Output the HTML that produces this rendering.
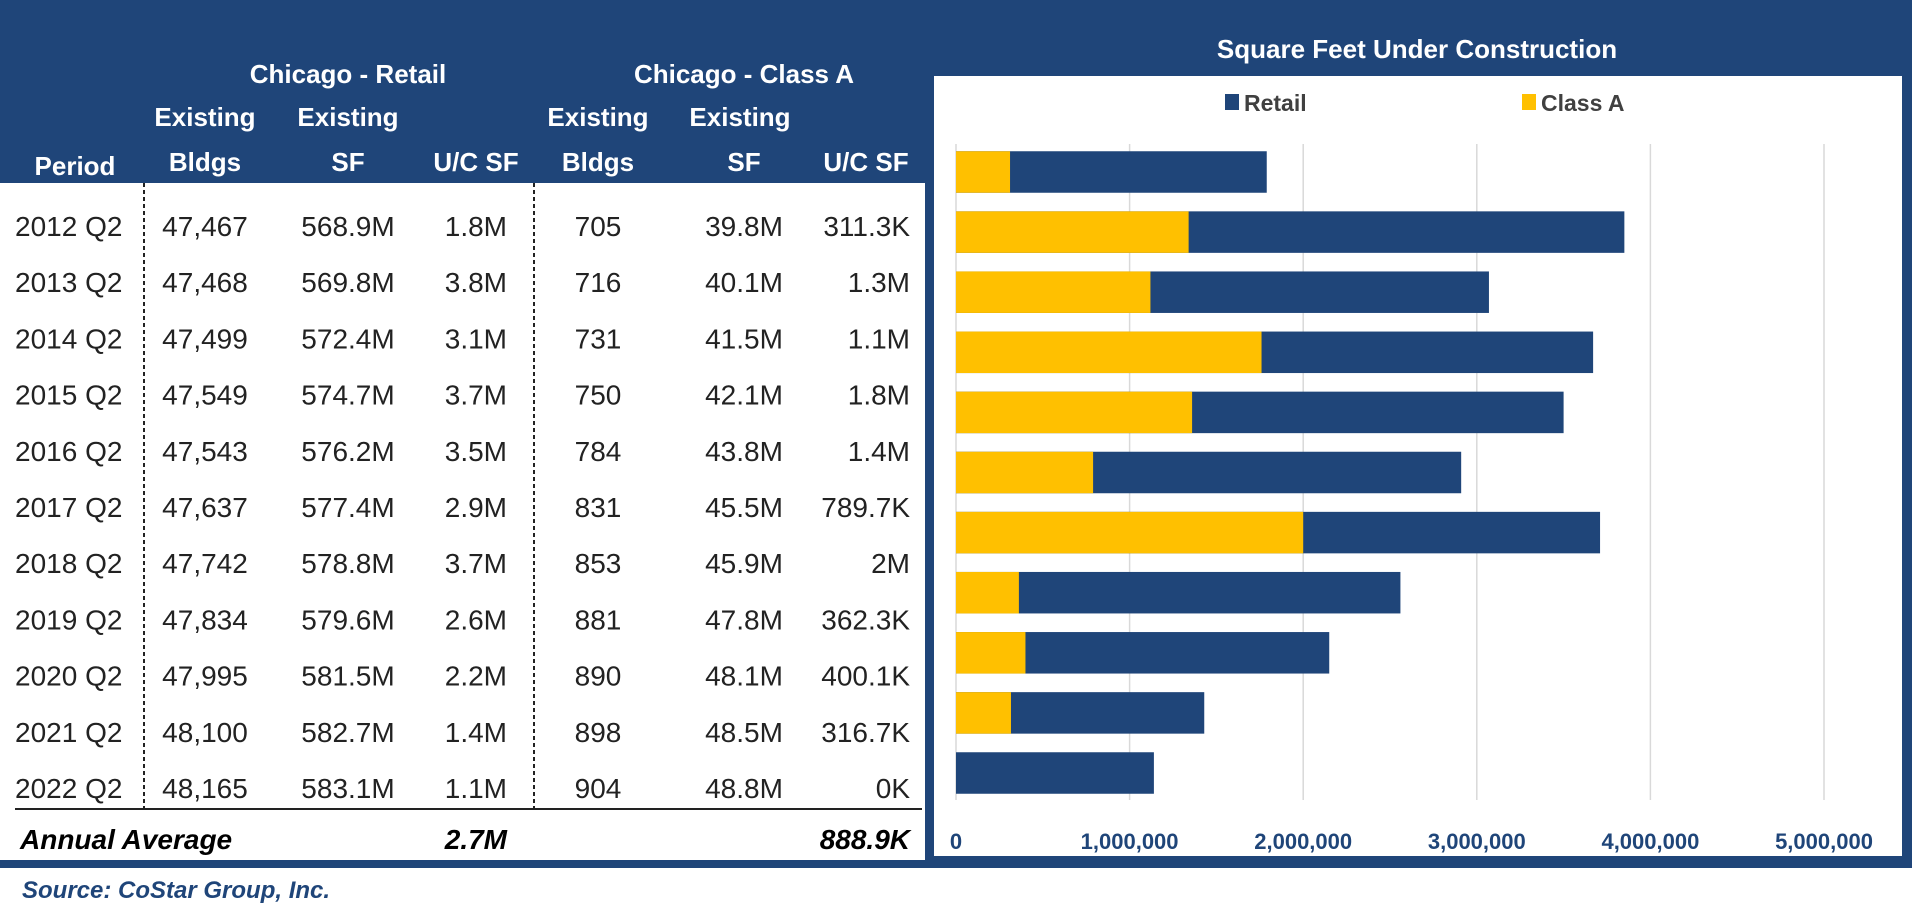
<!DOCTYPE html>
<html><head><meta charset="utf-8"><style>
html,body{margin:0;padding:0;background:#fff;}
svg{display:block;font-family:"Liberation Sans",sans-serif;}
</style></head><body>
<svg id="root" width="1912" height="918" viewBox="0 0 1912 918">
  <rect x="0" y="0" width="1912" height="868" fill="#1f4579"/>
  <rect x="0" y="183" width="925" height="677" fill="#fff"/>
  <rect x="934" y="76" width="968" height="780" fill="#fff"/>
  <text x="1417" y="58" fill="#fff" font-size="26" font-weight="bold" text-anchor="middle">Square Feet Under Construction</text>
  <g id="table"></g>
  <g id="chart"></g>
  <text x="22" y="898" fill="#1f4579" font-size="24" font-weight="bold" font-style="italic">Source:  CoStar Group, Inc.</text>
</svg>
<script>
const NS='http://www.w3.org/2000/svg';
const periods=['2012 Q2','2013 Q2','2014 Q2','2015 Q2','2016 Q2','2017 Q2','2018 Q2','2019 Q2','2020 Q2','2021 Q2','2022 Q2'];
const retailBldgs=['47,467','47,468','47,499','47,549','47,543','47,637','47,742','47,834','47,995','48,100','48,165'];
const retailSF=['568.9M','569.8M','572.4M','574.7M','576.2M','577.4M','578.8M','579.6M','581.5M','582.7M','583.1M'];
const retailUC=['1.8M','3.8M','3.1M','3.7M','3.5M','2.9M','3.7M','2.6M','2.2M','1.4M','1.1M'];
const classBldgs=['705','716','731','750','784','831','853','881','890','898','904'];
const classSF=['39.8M','40.1M','41.5M','42.1M','43.8M','45.5M','45.9M','47.8M','48.1M','48.5M','48.8M'];
const classUC=['311.3K','1.3M','1.1M','1.8M','1.4M','789.7K','2M','362.3K','400.1K','316.7K','0K'];
const retailValues=[1790000,3850000,3070000,3670000,3500000,2910000,3710000,2560000,2150000,1430000,1140000];
const classAValues=[311300,1340000,1120000,1760000,1360000,789700,2000000,362300,400100,316700,0];
const xTicks=[0,1000000,2000000,3000000,4000000,5000000];
const xTickLabels=['0','1,000,000','2,000,000','3,000,000','4,000,000','5,000,000'];

function mk(tag,attrs,parent,txt){const e=document.createElementNS(NS,tag);for(const k in attrs)e.setAttribute(k,attrs[k]);if(txt!==undefined)e.textContent=txt;parent.appendChild(e);return e;}
const table=document.getElementById('table');
// header
const H=[['Chicago - Retail',348,74],['Chicago - Class A',744,74],['Existing',205,117],['Existing',348,117],['Existing',598,117],['Existing',740,117],
 ['Period',75,166],['Bldgs',205,162],['SF',348,162],['U/C SF',476,162],['Bldgs',598,162],['SF',744,162],['U/C SF',866,162]];
H.forEach(h=>{const t=mk('text',{x:h[1],y:h[2]+9,fill:'#fff','font-size':26,'font-weight':'bold','text-anchor':'middle'},table,h[0]);

});
const cols=[[periods,15,'start'],[retailBldgs,205,'middle'],[retailSF,348,'middle'],[retailUC,507,'end'],[classBldgs,598,'middle'],[classSF,744,'middle'],[classUC,910,'end']];
periods.forEach((p,i)=>{const y=226+i*56.2+10;cols.forEach(c=>{const t=mk('text',{x:c[1],y:y,fill:'#222','font-size':28,'text-anchor':c[2]},table,c[0][i]);

});});
[144,534].forEach(x=>{const l=mk('line',{x1:x,y1:183,x2:x,y2:808,stroke:'#222','stroke-width':2,'stroke-dasharray':'4,3'},table);

});
const hl=mk('line',{x1:15,y1:809,x2:922,y2:809,stroke:'#222','stroke-width':2},table);


[['Annual Average',20,'start'],['2.7M',507,'end'],['888.9K',910,'end']].forEach(a=>{const t=mk('text',{x:a[1],y:849,fill:'#000','font-size':28,'font-weight':'bold','font-style':'italic','text-anchor':a[2]},table,a[0]);

});

// chart
const chart=document.getElementById('chart');
const x0=956,pxPerUnit=173.6/1000000;
const xs=v=>x0+v*pxPerUnit;
const ys=i=>172+i*60.1;
const bh=41.5;
xTicks.forEach((v,i)=>{const l=mk('line',{x1:xs(v),y1:144,x2:xs(v),y2:800,stroke:'#d9d9d9','stroke-width':1.5},chart);


const t=mk('text',{x:xs(v),y:849,fill:'#1f4579','font-size':22,'font-weight':'bold','text-anchor':'middle'},chart,xTickLabels[i]);

});
retailValues.forEach((v,i)=>{const r=mk('rect',{x:xs(0),y:ys(i)-bh/2,width:xs(v)-xs(0),height:bh,fill:'#1f4579'},chart);


const c=mk('rect',{x:xs(0),y:ys(i)-bh/2,width:xs(classAValues[i])-xs(0),height:bh,fill:'#ffc000'},chart);

});
// legend
const lg=mk('g',{},chart);


[['Retail','#1f4579',1225],['Class A','#ffc000',1522]].forEach(e=>{const g=mk('g',{},lg);


mk('rect',{x:e[2],y:94,width:14,height:16,fill:e[1]},g);
mk('text',{x:e[2]+19,y:111,fill:'#404040','font-size':23,'font-weight':'bold'},g,e[0]);});
</script>
</body></html>
